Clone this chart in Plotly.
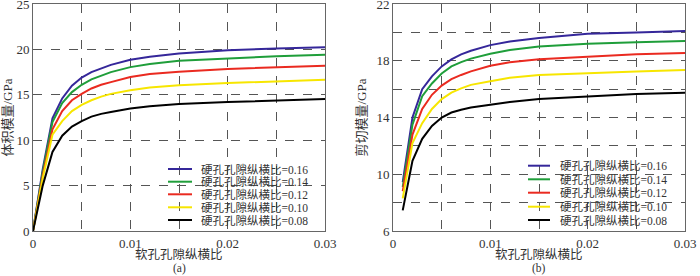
import plotly.graph_objects as go

# ---- data ----
names = ["硬孔孔隙纵横比=0.16", "硬孔孔隙纵横比=0.14", "硬孔孔隙纵横比=0.12",
         "硬孔孔隙纵横比=0.10", "硬孔孔隙纵横比=0.08"]
colors = ["#35279a", "#1f9e3a", "#ea2a20", "#f7e600", "#000000"]

x_a = [0, 0.001, 0.002, 0.003, 0.004, 0.005, 0.006, 0.007, 0.008, 0.010, 0.012, 0.015, 0.020, 0.025, 0.030]
k_016 = [0, 6.8, 12.4, 14.6, 16.0, 16.9, 17.5, 17.9, 18.3, 18.85, 19.2, 19.55, 19.9, 20.1, 20.25]
k_014 = [0, 6.5, 12.0, 14.1, 15.3, 16.1, 16.7, 17.1, 17.5, 18.05, 18.4, 18.75, 19.0, 19.25, 19.4]
k_012 = [0, 6.1, 11.2, 13.2, 14.4, 15.1, 15.7, 16.1, 16.4, 16.95, 17.3, 17.55, 17.85, 18.05, 18.2]
k_010 = [0, 5.8, 10.6, 12.1, 13.2, 13.9, 14.4, 14.8, 15.1, 15.5, 15.8, 16.05, 16.3, 16.5, 16.65]
k_008 = [0, 5.0, 8.7, 10.5, 11.5, 12.1, 12.6, 12.9, 13.1, 13.5, 13.75, 14.0, 14.2, 14.4, 14.55]

x_b = [0.001, 0.002, 0.003, 0.004, 0.005, 0.006, 0.007, 0.008, 0.010, 0.012, 0.015, 0.020, 0.025, 0.030]
g_016 = [9.45, 14.0, 16.0, 16.9, 17.6, 18.1, 18.45, 18.7, 19.1, 19.35, 19.6, 19.9, 20.0, 20.1]
g_014 = [9.1, 13.5, 15.5, 16.4, 17.1, 17.6, 17.9, 18.15, 18.5, 18.75, 19.0, 19.2, 19.3, 19.4]
g_012 = [8.8, 12.8, 14.6, 15.6, 16.25, 16.7, 17.0, 17.25, 17.65, 17.9, 18.1, 18.3, 18.45, 18.55]
g_010 = [8.3, 12.2, 13.6, 14.6, 15.3, 15.75, 16.05, 16.3, 16.55, 16.8, 17.0, 17.15, 17.25, 17.35]
g_008 = [7.45, 10.95, 12.5, 13.4, 14.0, 14.35, 14.55, 14.7, 14.9, 15.1, 15.3, 15.5, 15.65, 15.75]

k_series = [k_016, k_014, k_012, k_010, k_008]
g_series = [g_016, g_014, g_012, g_010, g_008]

x_ticks = [0, 0.01, 0.02, 0.03]
x_ticktext = ["0", "0.01", "0.02", "0.03"]
y_ticks_a = [0, 5, 10, 15, 20, 25]
y_ticks_b = [6, 10, 14, 18, 22]

x_title = "软孔孔隙纵横比"
y_title_a = "体积模量/GPa"
y_title_b = "剪切模量/GPa"
panel_labels = ["(a)", "(b)"]

FONT = "'Liberation Serif', 'Times New Roman', 'Noto Sans CJK SC', serif"
TXT = "#333333"
GRID = "#555555"

fig = go.Figure()
for n, c, y in zip(names, colors, k_series):
    fig.add_trace(go.Scatter(x=x_a, y=y, mode="lines", name=n, showlegend=False,
                             line=dict(color=c, width=2), xaxis="x", yaxis="y"))
for n, c, y in zip(names, colors, g_series):
    fig.add_trace(go.Scatter(x=x_b, y=y, mode="lines", name=n, showlegend=False,
                             line=dict(color=c, width=2), xaxis="x2", yaxis="y2"))

W, H = 700, 276
T, B = 4, 45
PH = H - T - B

def px(xp):
    return xp / W

def py(yp):
    return (H - B - yp) / PH

axis_common = dict(
    showline=True, linecolor="#666666", linewidth=1, mirror=True,
    showgrid=True, gridcolor=GRID, griddash="dash", gridwidth=1,
    zeroline=False, ticks="", ticklabeloverflow="allow", automargin=False,
    tickfont=dict(family=FONT, size=13, color=TXT),
)

fig.update_layout(
    width=W, height=H,
    margin=dict(l=0, r=0, t=T, b=B, autoexpand=False),
    paper_bgcolor="white", plot_bgcolor="white",
    showlegend=False,
    xaxis=dict(domain=[px(33), px(325)], range=[0, 0.03], tickvals=x_ticks, ticktext=x_ticktext,
               minor=dict(dtick=0.005, showgrid=True, gridcolor=GRID, griddash="dash"),
               anchor="y", **axis_common),
    yaxis=dict(domain=[0, 1], range=[0, 25], tickvals=y_ticks_a,
               title=dict(text=y_title_a, font=dict(family=FONT, size=13, color=TXT), standoff=6),
               anchor="x", **axis_common),
    xaxis2=dict(domain=[px(393), px(685)], range=[0, 0.03], tickvals=x_ticks, ticktext=x_ticktext,
                minor=dict(dtick=0.005, showgrid=True, gridcolor=GRID, griddash="dash"),
                anchor="y2", **axis_common),
    yaxis2=dict(domain=[0, 1], range=[6, 22], tickvals=y_ticks_b,
                minor=dict(dtick=2, showgrid=True, gridcolor=GRID, griddash="dash"),
                title=dict(text=y_title_b, font=dict(family=FONT, size=13, color=TXT), standoff=6),
                anchor="x2", **axis_common),
)

# manual compact legends
legend_rows_a = [169, 181.7, 194.3, 207.3, 220]
legend_rows_b = [165.7, 179.3, 192.7, 206.7, 220]
for rows, (lx0, lx1, tx) in [(legend_rows_a, (168, 192, 199)), (legend_rows_b, (528, 550, 558))]:
    for n, c, r in zip(names, colors, rows):
        fig.add_shape(type="line", xref="paper", yref="paper", x0=px(lx0), x1=px(lx1),
                      y0=py(r), y1=py(r), line=dict(color=c, width=2))
        fig.add_annotation(xref="paper", yref="paper", x=px(tx), y=py(r), text=n,
                           showarrow=False, xanchor="left", yanchor="middle",
                           font=dict(family=FONT, size=11.5, color=TXT))

for cx in [179, 539]:
    fig.add_annotation(xref="paper", yref="paper", x=px(cx), y=py(255), text=x_title,
                       showarrow=False, xanchor="center", yanchor="middle",
                       font=dict(family=FONT, size=12.5, color=TXT))

for lab, cx in zip(panel_labels, [179, 539]):
    fig.add_annotation(xref="paper", yref="paper", x=px(cx), y=py(268.5), text=lab,
                       showarrow=False, xanchor="center", yanchor="middle",
                       font=dict(family=FONT, size=11.5, color=TXT))

fig.write_html("out.html", config={"displayModeBar": False},
               post_script="document.body.style.margin='0px';document.body.style.overflow='hidden';")
